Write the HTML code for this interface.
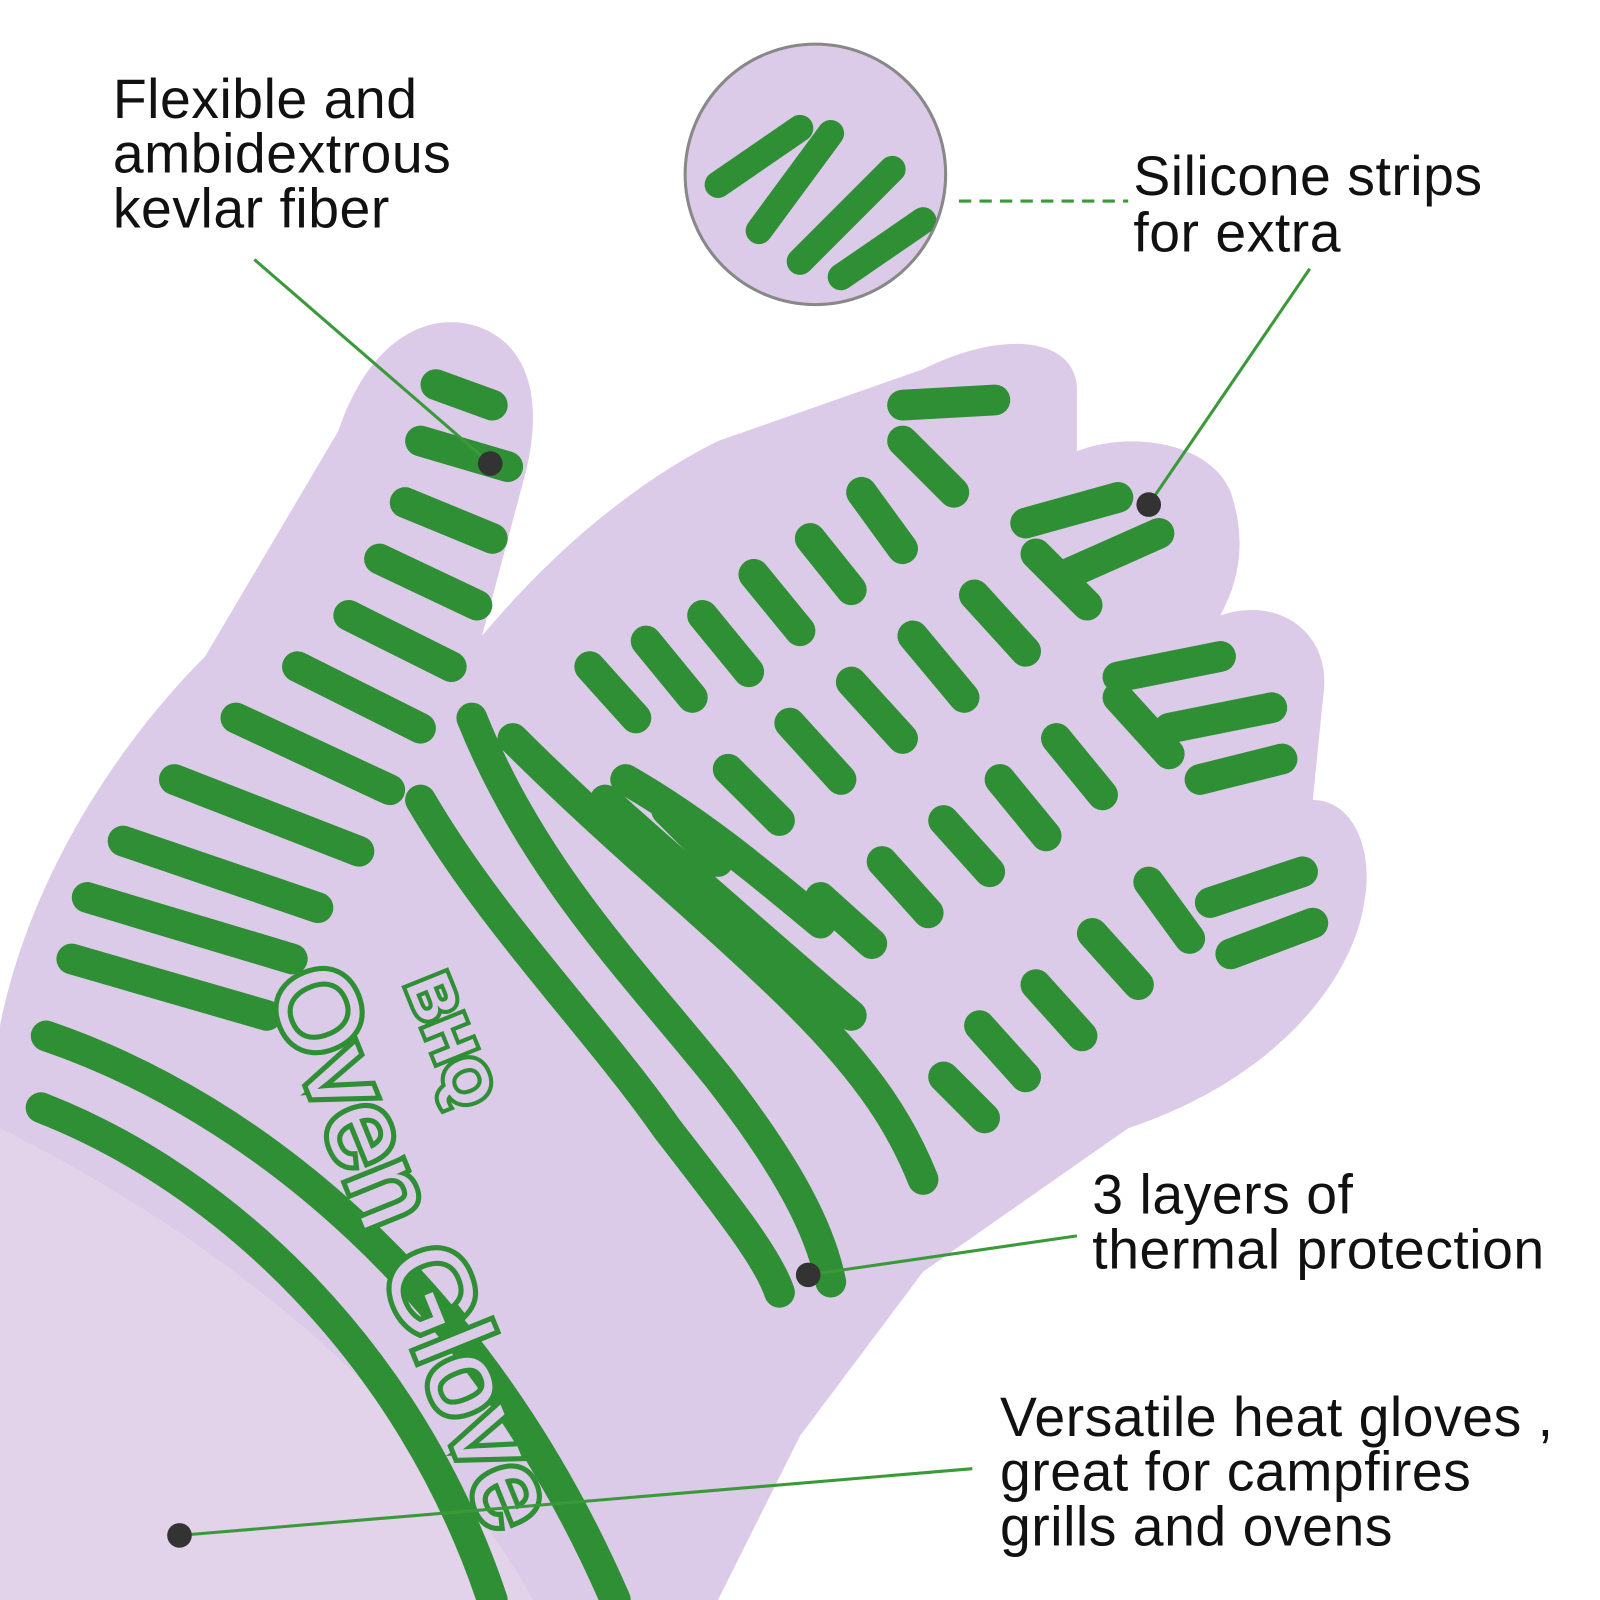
<!DOCTYPE html>
<html><head><meta charset="utf-8"><style>
html,body{margin:0;padding:0;background:#fff;}
svg{display:block}
</style></head><body>
<svg width="1600" height="1600" viewBox="0 0 1560 1560" xmlns="http://www.w3.org/2000/svg">
<defs>
<clipPath id="c"><circle cx="795" cy="170" r="126"/></clipPath>
</defs>
<rect width="1560" height="1560" fill="#fff"/>
<path d="M0 1560 L0 1000 C30 850 120 720 200 640 L330 420 C360 330 420 300 470 320 C520 340 530 400 510 470 L470 620 C520 560 600 480 700 430 L900 360 C980 320 1050 330 1050 380 L1050 440 C1100 420 1180 430 1200 480 C1220 540 1200 580 1190 600 C1250 580 1300 620 1290 680 L1280 780 C1320 780 1340 830 1330 880 C1320 950 1250 1050 1100 1100 L900 1240 L780 1400 L700 1560 Z" fill="#dccbe8"/>
<path d="M0 1100 C200 1200 400 1350 520 1560 L0 1560 Z" fill="#e2d3ea"/>
<g stroke="#2f8f34" stroke-width="30" fill="none" stroke-linecap="round">
<line x1="425" y1="375" x2="480" y2="395"/>
<line x1="410" y1="430" x2="495" y2="455"/>
<line x1="395" y1="490" x2="480" y2="525"/>
<line x1="370" y1="545" x2="465" y2="590"/>
<line x1="340" y1="600" x2="440" y2="650"/>
<line x1="290" y1="650" x2="410" y2="710"/>
<line x1="230" y1="700" x2="380" y2="770"/>
<line x1="170" y1="760" x2="350" y2="830"/>
<line x1="120" y1="820" x2="310" y2="885"/>
<line x1="85" y1="875" x2="285" y2="935"/>
<line x1="70" y1="935" x2="260" y2="990"/>
<path d="M45 1010 C250 1080 470 1260 600 1560"/>
<path d="M40 1080 C220 1150 400 1320 480 1560"/>
<path d="M460 700 C520 850 620 950 700 1050 C770 1140 800 1200 810 1250"/>
<path d="M410 780 C480 900 580 1000 650 1100 C720 1190 750 1230 760 1260"/>
<path d="M500 720 C600 820 700 900 780 980 C850 1050 880 1100 900 1150"/>
<path d="M590 780 C680 860 760 930 830 990"/>
<path d="M610 760 C680 800 740 850 800 900"/>
<line x1="575" y1="650" x2="620" y2="700"/>
<line x1="630" y1="625" x2="675" y2="680"/>
<line x1="685" y1="600" x2="730" y2="655"/>
<line x1="735" y1="560" x2="780" y2="615"/>
<line x1="790" y1="525" x2="830" y2="575"/>
<line x1="840" y1="480" x2="880" y2="535"/>
<line x1="880" y1="430" x2="930" y2="480"/>
<line x1="880" y1="395" x2="970" y2="390"/>
<line x1="650" y1="790" x2="700" y2="840"/>
<line x1="710" y1="750" x2="760" y2="800"/>
<line x1="770" y1="705" x2="820" y2="760"/>
<line x1="830" y1="665" x2="880" y2="720"/>
<line x1="890" y1="620" x2="940" y2="680"/>
<line x1="950" y1="580" x2="1000" y2="635"/>
<line x1="1010" y1="540" x2="1060" y2="590"/>
<line x1="1000" y1="510" x2="1090" y2="485"/>
<line x1="1040" y1="560" x2="1130" y2="520"/>
<line x1="800" y1="875" x2="850" y2="920"/>
<line x1="860" y1="840" x2="905" y2="890"/>
<line x1="920" y1="800" x2="965" y2="850"/>
<line x1="975" y1="760" x2="1020" y2="815"/>
<line x1="1030" y1="720" x2="1075" y2="775"/>
<line x1="1090" y1="680" x2="1140" y2="735"/>
<line x1="1090" y1="660" x2="1190" y2="640"/>
<line x1="1140" y1="710" x2="1240" y2="690"/>
<line x1="1170" y1="760" x2="1250" y2="740"/>
<line x1="920" y1="1050" x2="960" y2="1090"/>
<line x1="955" y1="1000" x2="1000" y2="1050"/>
<line x1="1010" y1="960" x2="1055" y2="1010"/>
<line x1="1065" y1="910" x2="1110" y2="960"/>
<line x1="1120" y1="860" x2="1160" y2="915"/>
<line x1="1180" y1="880" x2="1270" y2="850"/>
<line x1="1200" y1="930" x2="1280" y2="900"/>
</g>
<text transform="translate(395,960) rotate(68)" font-family="Liberation Sans, sans-serif" font-size="60" font-weight="bold" fill="#dccbe8" stroke="#2f8f34" stroke-width="8" paint-order="stroke">BHQ</text>
<text transform="translate(260,960) rotate(68)" font-family="Liberation Sans, sans-serif" font-size="110" fill="#dccbe8" stroke="#2f8f34" stroke-width="10" paint-order="stroke">Oven Glove</text>
<circle cx="795" cy="170" r="127" fill="#dccbe8" stroke="#888" stroke-width="3"/>
<g clip-path="url(#c)" stroke="#2f8f34" stroke-width="26" stroke-linecap="round">
<line x1="700" y1="180" x2="780" y2="125"/>
<line x1="740" y1="225" x2="810" y2="130"/>
<line x1="780" y1="255" x2="870" y2="165"/>
<line x1="820" y1="270" x2="900" y2="215"/>
</g>
<g stroke="#3a9a3a" stroke-width="3" fill="none">
<line x1="248" y1="253" x2="478" y2="452"/>
<line x1="935" y1="196" x2="1100" y2="196" stroke-dasharray="12,8"/>
<line x1="1277" y1="262" x2="1120" y2="492"/>
<line x1="1050" y1="1205" x2="788" y2="1243"/>
<line x1="948" y1="1432" x2="175" y2="1497"/>
</g>
<g fill="#333">
<circle cx="478" cy="452" r="12"/>
<circle cx="1120" cy="492" r="12"/>
<circle cx="788" cy="1243" r="12"/>
<circle cx="175" cy="1497" r="12"/>
</g>
<g font-family="Liberation Sans, sans-serif" font-size="54" fill="#111" letter-spacing="0.5">
<text x="110" y="115">Flexible and</text>
<text x="110" y="168">ambidextrous</text>
<text x="110" y="222">kevlar fiber</text>
<text x="1105" y="190">Silicone strips</text>
<text x="1105" y="245">for extra</text>
<text x="1065" y="1183">3 layers of</text>
<text x="1065" y="1237">thermal protection</text>
<text x="975" y="1400">Versatile heat gloves ,</text>
<text x="975" y="1453">great for campfires</text>
<text x="975" y="1507">grills and ovens</text>
</g>
</svg>
</body></html>
